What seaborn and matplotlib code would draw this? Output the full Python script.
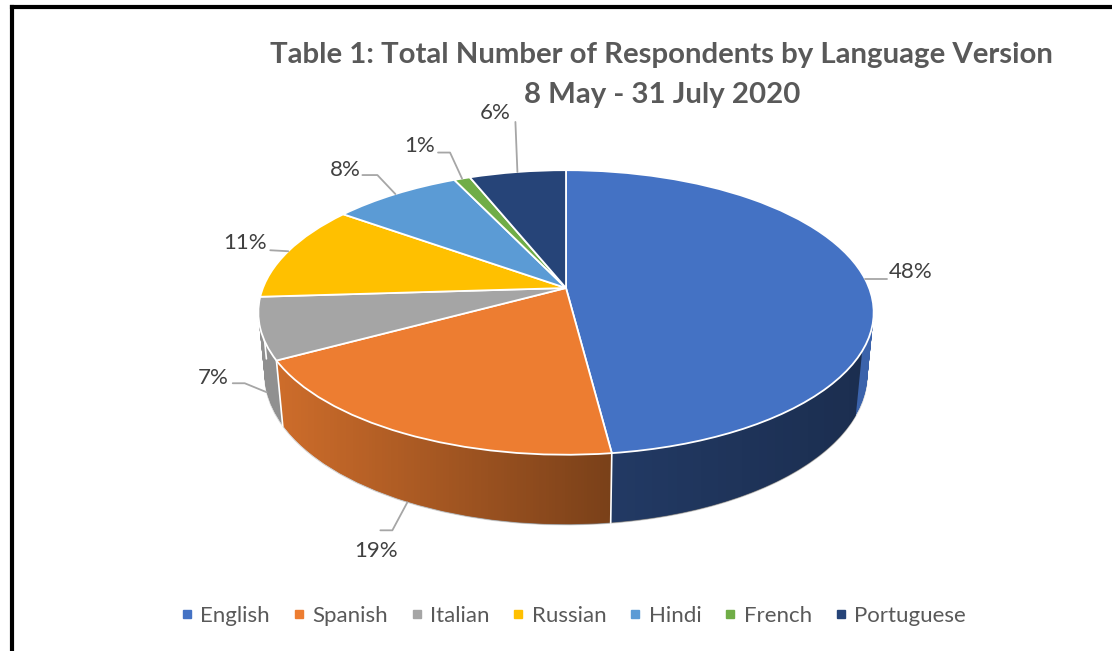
import numpy as np
import matplotlib
matplotlib.use("Agg")
import matplotlib.pyplot as plt
import matplotlib.colors as mcolors
from matplotlib.lines import Line2D
from matplotlib.patches import PathPatch
from matplotlib.path import Path
from matplotlib.transforms import Transform
import seaborn as sns

languages = ["English", "Spanish", "Italian", "Russian", "Hindi", "French", "Portuguese"]
shares = [48, 19, 7, 11, 8, 1, 6]
colors = ["#4472C4", "#ED7D31", "#A5A5A5", "#FFC000", "#5B9BD5", "#70AD47", "#264478"]
title_lines = ["Table 1: Total Number of Respondents by Language Version", "8 May - 31 July 2020"]

# label layout in pixels, relative to where each slice's leader starts
knee_dx = [22, -15, -22, 0, -18, -12, -2]
knee_dy = [0, 28, -9, 0, -19, -26, -50]
end_dx = [22, -27, -34, -18, -33, -24, -2]
end_dy = [0, 28, -9, -1, -19, -26, -50]
text_dx = [45, -31, -54, -43, -50, -42, -22]
text_dy = [-7, 49, -14, -8, -24, -33, -59]

W, H = 1112, 651
CX, CY = 566, 288          # pie centre on the page
FOCAL, DIST = 1570, 5.18   # fake camera
TILT = np.radians(27.1)
DEPTH = 0.233              # thickness of the disc
C_T, S_T = np.cos(TILT), np.sin(TILT)


class Tilt(Transform):
    """Project the flat unit pie (at height z) onto the page with perspective."""
    input_dims = output_dims = 2

    def __init__(self, z=0.0):
        super().__init__()
        self.z = z

    def transform_non_affine(self, values):
        pts = np.asarray(values, dtype=float)
        x, y = pts[:, 0], pts[:, 1]
        depth = DIST + y * C_T - self.z * S_T
        sx = FOCAL * x / depth
        sy = FOCAL * (y * S_T + self.z * C_T) / depth
        return np.column_stack([CX + sx, CY - sy])


def shade(c, f):
    r, g, b = mcolors.to_rgb(c)
    return (r * f, g * f, b * f)


sns.set_theme(style="white")
plt.rcParams["font.family"] = ["Lato", "DejaVu Sans"]

fig = plt.figure(figsize=(W / 100, H / 100), dpi=100)
ax = fig.add_axes([0, 0, 1, 1])

# side wall: stack of darker pies from the bottom up
side_colors = [shade(c, 0.87) for c in colors]
n_layers = 70
for k in range(n_layers):
    z = -DEPTH * (1 - k / n_layers)
    props = dict(linewidth=0.9, edgecolor="#D9D9D9") if k == 0 else dict(linewidth=0)
    wedges, _ = ax.pie(shares, colors=side_colors, startangle=90, counterclock=False,
                       wedgeprops=props)
    for w in wedges:
        w.set_transform(Tilt(z) + ax.transData)
        w.set_zorder(1)

# horizontal shading across the side wall
phi_back = np.radians(np.linspace(-25, 205, 200))
phi_front = np.radians(np.linspace(205, 335, 200))
top_pts = Tilt(0).transform(np.column_stack([np.cos(phi_back), np.sin(phi_back)]))
bot_pts = Tilt(-DEPTH).transform(np.column_stack([np.cos(phi_front), np.sin(phi_front)]))
hull = Path(np.vstack([top_pts, bot_pts, top_pts[:1]]), closed=True)
xs = np.linspace(250, 885, 400)
grad = np.zeros((1, xs.size, 4))
grad[..., 3] = np.interp(xs, [275, 620, 872], [0.0, 0.42, 0.54])
im = ax.imshow(grad, extent=(250, 885, 560, 150), aspect="auto", zorder=2,
               interpolation="bilinear")
im.set_clip_path(PathPatch(hull, transform=ax.transData))

# white seams where slices meet on the side
total = float(sum(shares))
cum = np.concatenate([[0], np.cumsum(shares)])
for c in cum[1:-1]:
    b = np.radians(90 - 360 * c / total)
    if np.sin(b) < 0:
        p = np.array([[np.cos(b), np.sin(b)]])
        p0 = Tilt(0).transform(p)[0]
        p1 = Tilt(-DEPTH).transform(p)[0]
        ax.plot([p0[0], p1[0]], [p0[1], p1[1]], color="white", lw=1.2, zorder=2.5)

# top face
wedges, _ = ax.pie(shares, colors=colors, startangle=90, counterclock=False,
                   wedgeprops=dict(edgecolor="white", linewidth=1.3))
for w in wedges:
    w.set_transform(Tilt(0) + ax.transData)
    w.set_zorder(3)

# percentage labels with leader lines
for i, v in enumerate(shares):
    mid = np.radians(90 - 360 * (cum[i] + v / 2) / total)
    z = -DEPTH if np.sin(mid) < 0 else 0.0
    x0, y0 = Tilt(z).transform(np.array([[np.cos(mid), np.sin(mid)]]))[0]
    ax.plot([x0, x0 + knee_dx[i], x0 + end_dx[i]], [y0, y0 + knee_dy[i], y0 + end_dy[i]],
            color="#A6A6A6", lw=1.3, zorder=4)
    ax.text(x0 + text_dx[i], y0 + text_dy[i], f"{v}%", ha="center", va="center",
            fontsize=16, color="#404040", zorder=5)

ax.set_xlim(0, W)
ax.set_ylim(H, 0)
ax.set_aspect("auto")
ax.axis("off")

fig.text(661 / W, 1 - 55 / H, title_lines[0], ha="center", va="center",
         fontsize=21.2, fontweight="bold", color="#595959")
fig.text(662 / W, 1 - 95 / H, title_lines[1], ha="center", va="center",
         fontsize=21.2, fontweight="bold", color="#595959")

handles = [Line2D([], [], marker="s", ls="", color=c, markersize=5.5) for c in colors]
fig.legend(handles, languages, loc="center", bbox_to_anchor=(573 / W, 1 - 616 / H), ncol=7,
           frameon=False, handletextpad=0.3, columnspacing=1.0, fontsize=16,
           labelcolor="#595959", handlelength=0.6)

# page border on the left and top
fig.add_artist(Line2D([11.5 / W, 11.5 / W], [0, 1 - 6.5 / H], color="black", lw=3,
                      transform=fig.transFigure, solid_capstyle="projecting"))
fig.add_artist(Line2D([11.5 / W, 1], [1 - 6.5 / H, 1 - 6.5 / H], color="black", lw=3,
                      transform=fig.transFigure, solid_capstyle="projecting"))

fig.savefig("out.png", dpi=100)
